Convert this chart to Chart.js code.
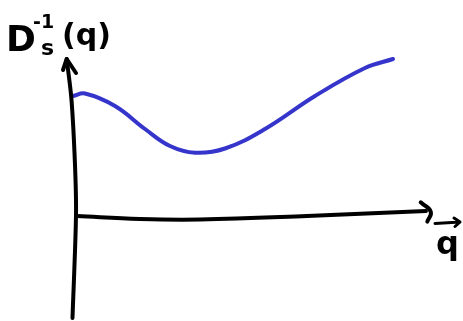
<!DOCTYPE html>
<html>
<head>
<meta charset="utf-8">
<script src="https://cdn.jsdelivr.net/npm/chart.js@4.4.0/dist/chart.umd.min.js"></script>
<style>
  html, body { margin: 0; padding: 0; background: #ffffff; }
  #c { display: block; }
</style>
</head>
<body>
<canvas id="c" width="463" height="321"></canvas>
<script>
// Sketch data (arbitrary units)
const qValues = [-2, 10, 40, 70, 95, 120, 150, 190, 240, 290, 318];
const dInvValues = [119, 121.5, 109, 86, 69, 62.3, 66.5, 86, 119, 147, 156];

// Hand-drawn axis strokes
const yAxisX = [-2.5, 1, 0, -3.5, -8.3];
const yAxisY = [-103, 0, 50, 115, 156];
const yArrowX = [-12, -8.3, 1];
const yArrowY = [145, 156, 142];
const xAxisX = [2, 65, 125, 232, 351];
const xAxisY = [-1, -4, -4.5, -1, 4];
const xArrowX = [345.7, 355.7, 352.3];
const xArrowY = [12.7, 3.3, -6.7];

const yLabel = { main: 'D', sub: 's', sup: '-1', arg: '(q)' };
const xLabel = 'q';

const pts = (xs, ys) => xs.map((x, i) => ({ x: x, y: ys[i] }));

const stroke = (data, color, width, tension) => ({
  data: data, showLine: true, borderColor: color, borderWidth: width,
  pointRadius: 0, tension: tension, borderCapStyle: 'round', borderJoinStyle: 'round',
  fill: false
});

const labelPlugin = {
  id: 'labels',
  afterDraw(chart) {
    const ctx = chart.ctx;
    ctx.save();
    ctx.fillStyle = '#000';
    ctx.textBaseline = 'alphabetic';
    ctx.font = 'bold 36px "DejaVu Sans"';
    ctx.fillText(yLabel.main, 6, 51);
    ctx.font = 'bold 22px "DejaVu Sans"';
    ctx.fillText(yLabel.sub, 41, 55);
    ctx.font = 'bold 19px "DejaVu Sans"';
    ctx.fillText(yLabel.sup, 33, 28);
    ctx.font = 'bold 30px "DejaVu Sans"';
    ctx.fillText(yLabel.arg, 62, 45);
    // x label with vector arrow
    ctx.font = 'bold 32px "DejaVu Sans"';
    ctx.fillText(xLabel, 436, 254);
    ctx.strokeStyle = '#000';
    ctx.lineWidth = 3;
    ctx.lineCap = 'round';
    ctx.lineJoin = 'round';
    ctx.beginPath();
    ctx.moveTo(435, 223.5); ctx.lineTo(460, 222);
    ctx.moveTo(454, 218); ctx.lineTo(460, 222); ctx.lineTo(455, 226.5);
    ctx.stroke();
    ctx.restore();
  }
};

new Chart(document.getElementById('c'), {
  type: 'scatter',
  data: {
    datasets: [
      stroke(pts(yAxisX, yAxisY), '#000000', 4, 0.3),
      stroke(pts(yArrowX, yArrowY), '#000000', 4, 0),
      stroke(pts(xAxisX, xAxisY), '#000000', 4, 0.4),
      stroke(pts(xArrowX, xArrowY), '#000000', 4, 0.5),
      stroke(pts(qValues, dInvValues), '#3535cc', 4, 0.4)
    ]
  },
  options: {
    responsive: false,
    animation: false,
    layout: { padding: 0 },
    clip: false,
    plugins: { legend: { display: false }, tooltip: { enabled: false }, title: { display: false } },
    scales: {
      x: { type: 'linear', display: false, min: -75, max: 388 },
      y: { type: 'linear', display: false, min: -106, max: 215 }
    }
  },
  plugins: [labelPlugin]
});
</script>
</body>
</html>
